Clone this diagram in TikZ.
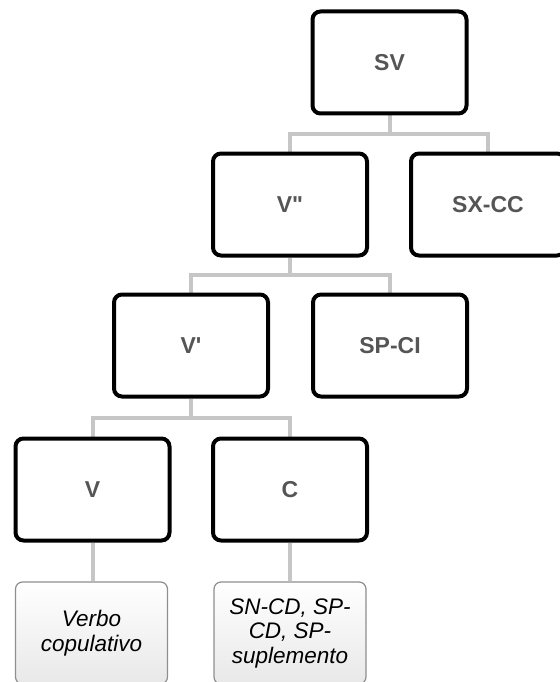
\documentclass[tikz,border=0pt]{standalone}
\usepackage{fontspec}
\setmainfont{Liberation Sans}[Ligatures=TeXOff]
\usetikzlibrary{calc,backgrounds}
\definecolor{conncol}{HTML}{C6C6C6}
\definecolor{labcol}{HTML}{555555}
\definecolor{leafline}{HTML}{8E8E8E}
\begin{document}
\begin{tikzpicture}[x=1pt,y=-1pt,
  box/.style={draw=black, line width=4pt, rounded corners=8pt, fill=white,
    minimum width=154pt, minimum height=102pt, inner sep=0pt,
    font=\fontsize{23}{27}\selectfont\bfseries, text=labcol},
  leaf/.style={draw=leafline, line width=1.2pt, rounded corners=7pt,
    top color=white, bottom color=black!9,
    minimum width=152pt, minimum height=102pt, inner sep=0pt, align=center,
    font=\fontsize{22.5}{24.5}\selectfont\itshape, text=black},
  conn/.style={draw=conncol, line width=4pt, line join=miter}]
\node[box] (SV) at (389.5,62.5) {SV};
\node[box] (V2) at (290,204.5) {V"};
\node[box] (SXCC) at (488,204.5) {SX-CC};
\node[box] (V1) at (191,345.5) {V'};
\node[box] (SPCI) at (390,345.5) {SP-CI};
\node[box] (V) at (92.5,489.5) {V};
\node[box] (C) at (290,489.5) {C};
\node[leaf] (VC) at (91.5,633) {Verbo\\copulativo};
\node[leaf] (SN) at (290,633) {SN-CD, SP-\\CD, SP-\\suplemento};
\begin{scope}[on background layer]
  \coordinate (m1) at ($(SV.south)!.5!(V2.north)$);
  \draw[conn] (SV.south) -- (SV.south |- m1);
  \draw[conn] (V2.north) |- (m1) -| (SXCC.north);
  \coordinate (m2) at ($(V2.south)!.5!(V1.north)$);
  \draw[conn] (V2.south) -- (V2.south |- m2);
  \draw[conn] (V1.north) |- (m2) -| (SPCI.north);
  \coordinate (m3) at ($(V1.south)!.5!(V.north)$);
  \draw[conn] (V1.south) -- (V1.south |- m3);
  \draw[conn] (V.north) |- (m3) -| (C.north);
  \draw[conn] (V.south) -- (V.south |- VC.north);
  \draw[conn] (C.south) -- (C.south |- SN.north);
\end{scope}
\pgfresetboundingbox
\useasboundingbox (0,0) rectangle (559,682);
\end{tikzpicture}
\end{document}
